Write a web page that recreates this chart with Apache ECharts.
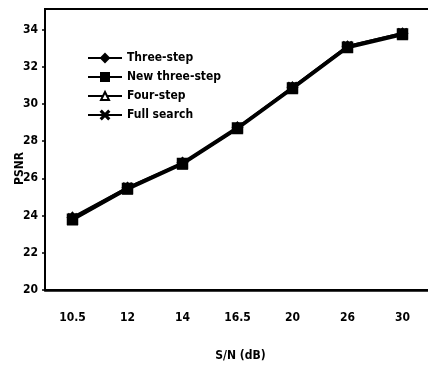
<!DOCTYPE html>
<html>
<head>
<meta charset="utf-8">
<script src="https://cdn.jsdelivr.net/npm/echarts@6/dist/echarts.min.js"></script>
<style>
html, body { margin: 0; padding: 0; background: #fff; }
#container { width: 428px; height: 367px; }
</style>
</head>
<body>
<div id="container"></div>
<script>
var snr = ['10.5', '12', '14', '16.5', '20', '26', '30'];
var threeStep = [23.9, 25.5, 26.85, 28.75, 30.9, 33.1, 33.8];
var newThreeStep = [23.8, 25.45, 26.8, 28.7, 30.85, 33.05, 33.75];
var fourStep = [23.75, 25.4, 26.75, 28.65, 30.8, 33.0, 33.7];
var fullSearch = [23.85, 25.5, 26.8, 28.7, 30.9, 33.1, 33.8];

var font = "'Liberation Sans Narrow', 'DejaVu Sans Condensed', 'Liberation Sans', sans-serif";
var crossPath = 'path://M0,1L1,0L5,4L9,0L10,1L6,5L10,9L9,10L5,6L1,10L0,9L4,5Z';

function makeSeries(name, data, symbol, size, fill, z) {
    return {
        name: name,
        type: 'line',
        data: data,
        symbol: symbol,
        symbolSize: size,
        z: z,
        lineStyle: { color: '#000', width: 2.5 },
        itemStyle: { color: fill, borderColor: '#000', borderWidth: 1.5 }
    };
}

var dom = document.getElementById('container');
var myChart = echarts.init(dom);
var option = {
    animation: false,
    backgroundColor: '#fff',
    textStyle: { fontFamily: font },
    grid: {
        left: 45,
        right: -2,
        top: 9,
        bottom: 77,
        outerBoundsMode: 'none',
        containLabel: false,
        show: true,
        borderColor: '#000',
        borderWidth: 2
    },
    legend: {
        orient: 'vertical',
        left: 82,
        top: 47,
        itemWidth: 34,
        itemHeight: 10,
        itemGap: 7,
        textStyle: { color: '#000', fontSize: 12, fontWeight: 'bold', fontFamily: font },
        data: ['Three-step', 'New three-step', 'Four-step', 'Full search']
    },
    xAxis: {
        type: 'category',
        data: snr,
        name: 'S/N (dB)',
        nameLocation: 'middle',
        nameGap: 60,
        nameMoveOverlap: false,
        nameTextStyle: { color: '#000', fontSize: 12, fontWeight: 'bold', fontFamily: font, padding: [0, 0, 0, 6] },
        axisLine: { lineStyle: { color: '#000', width: 2.5 } },
        axisTick: { show: false },
        axisLabel: { color: '#000', fontSize: 12, fontWeight: 'bold', margin: 22, fontFamily: font },
        splitLine: { show: false }
    },
    yAxis: {
        type: 'value',
        min: 20,
        max: 35.1,
        interval: 2,
        name: 'PSNR',
        nameLocation: 'middle',
        nameGap: 19,
        nameMoveOverlap: false,
        nameTextStyle: { color: '#000', fontSize: 12, fontWeight: 'bold', fontFamily: font, padding: [0, 38, 0, 0] },
        axisLine: { show: true, lineStyle: { color: '#000', width: 2 } },
        axisTick: { show: true, length: 3, lineStyle: { color: '#000', width: 1.5 } },
        axisLabel: { color: '#000', fontSize: 12, fontWeight: 'bold', margin: 7, showMaxLabel: false, fontFamily: font },
        splitLine: { show: false }
    },
    series: [
        makeSeries('Three-step', threeStep, 'diamond', 10, '#000', 2),
        makeSeries('Four-step', fourStep, 'triangle', 9, '#fff', 3),
        makeSeries('Full search', fullSearch, crossPath, 9, '#000', 4),
        makeSeries('New three-step', newThreeStep, 'rect', 10, '#000', 5)
    ]
};
myChart.setOption(option);
</script>
</body>
</html>
